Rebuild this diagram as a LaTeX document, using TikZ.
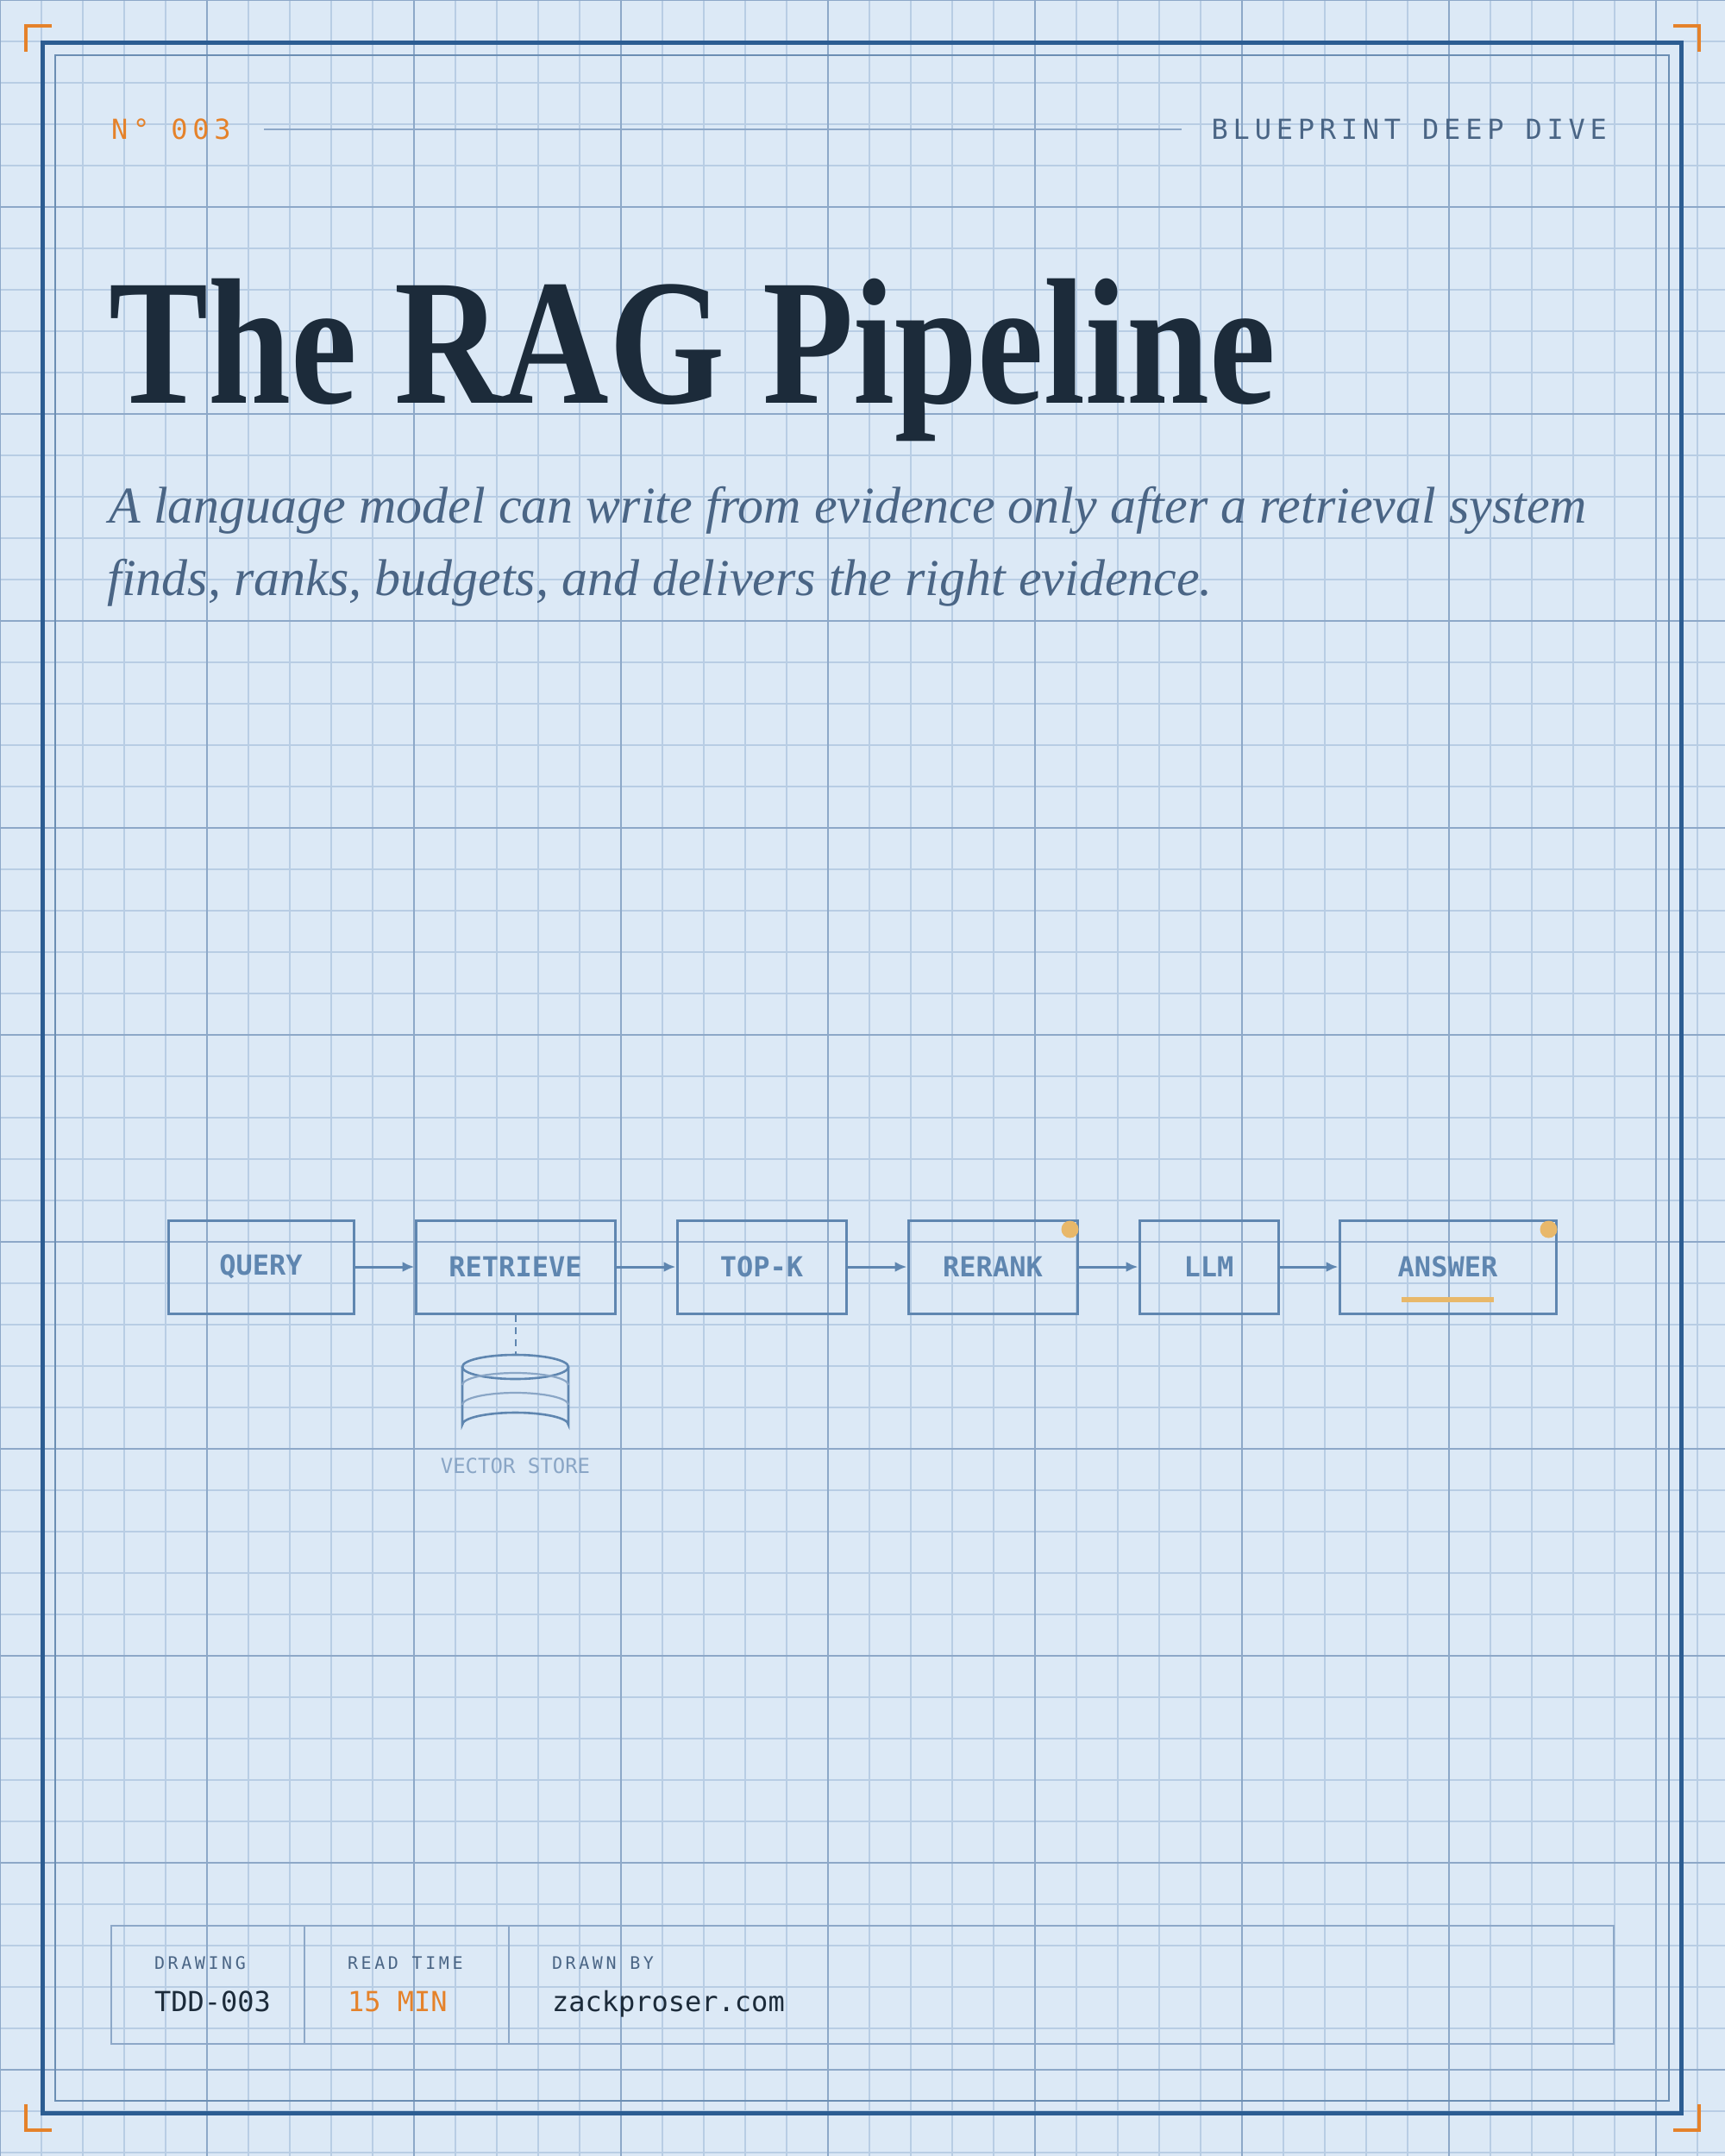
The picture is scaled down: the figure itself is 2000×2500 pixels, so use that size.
\documentclass[tikz,border=0pt]{standalone}
\usepackage{fontspec}
\setmainfont{Liberation Serif}
\setmonofont{DejaVu Sans Mono}
\newfontfamily\spaced[LetterSpace=18]{DejaVu Sans Mono}
\usetikzlibrary{arrows.meta, positioning, calc}
\definecolor{paper}{HTML}{DCE9F6}
\definecolor{gridminor}{HTML}{B8CDE4}
\definecolor{gridmajor}{HTML}{8DA8C8}
\definecolor{frame}{HTML}{2C5D92}
\definecolor{ink}{HTML}{1C2B3A}
\definecolor{subink}{HTML}{4A6585}
\definecolor{stage}{HTML}{5F86B0}
\definecolor{faint}{HTML}{8AA6C6}
\definecolor{accent}{HTML}{E5822A}
\definecolor{gold}{HTML}{E8B86A}

\begin{document}
\begin{tikzpicture}[
    x=0.5pt, y=-0.5pt,
    stage/.style={draw=stage, line width=1.5pt, minimum height=54pt, inner sep=0pt,
                  font=\ttfamily\bfseries\fontsize{16}{20}\selectfont, text=stage},
    flow/.style={draw=stage, line width=1.5pt, -{Latex[length=7pt,width=6pt]}},
    dot/.style={circle, fill=gold, inner sep=0pt, minimum size=10pt},
    tag/.style={font=\spaced\fontsize{10}{12}\selectfont, text=subink, anchor=base west},
    val/.style={font=\ttfamily\fontsize{16}{19}\selectfont, anchor=base west},
    lede/.style={anchor=base west, inner sep=0pt, text=subink, font=\itshape\fontsize{30}{42}\selectfont}
  ]
  % paper and grid
  \fill[paper] (0,0) rectangle (2000,2500);
  \useasboundingbox (0,0) rectangle (2000,2500);
  \foreach \x in {0,48,...,2000} \draw[gridminor, line width=0.6pt] (\x,0) -- (\x,2500);
  \foreach \y in {0,48,...,2500} \draw[gridminor, line width=0.6pt] (0,\y) -- (2000,\y);
  \foreach \x in {0,240,...,2000} \draw[gridmajor, line width=0.8pt] (\x,0) -- (\x,2500);
  \foreach \y in {0,240,...,2500} \draw[gridmajor, line width=0.8pt] (0,\y) -- (2000,\y);

  % frames and corner marks
  \draw[frame, line width=2.5pt] (49,49) rectangle (1949,2450);
  \draw[frame!70, line width=0.9pt] (64,64) rectangle (1935,2436);
  \draw[accent, line width=2pt] (30,60) -- (30,30) -- (60,30);
  \draw[accent, line width=2pt] (1940,30) -- (1970,30) -- (1970,60);
  \draw[accent, line width=2pt] (30,2440) -- (30,2470) -- (60,2470);
  \draw[accent, line width=2pt] (1940,2470) -- (1970,2470) -- (1970,2440);

  % header
  \node[font=\spaced\fontsize{16}{20}\selectfont, text=accent, anchor=west] (num) at (122,150) {N° 003};
  \node[font=\spaced\fontsize{16}{20}\selectfont, text=subink, anchor=east] (kind) at (1870,150) {BLUEPRINT DEEP DIVE};
  \draw[gridmajor, line width=0.9pt] (306,150) -- (1370,150);

  % title
  \node[anchor=base west, inner sep=0pt, text=ink, xscale=0.83, transform shape,
        font=\bfseries\fontsize{104}{110}\selectfont] (title) at (126,467) {The RAG Pipeline};
  \node[lede] (lede1) at (126,606) {A language model can write from evidence only after a retrieval system};
  \node[lede] (lede2) at (124,690) {finds, ranks, budgets, and delivers the right evidence.};

  % pipeline
  \node[stage, minimum width=107.5pt] (query) at (302.5,1469) {QUERY};
  \node[stage, minimum width=115.5pt] (retrieve) at (597.5,1469) {RETRIEVE};
  \node[stage, minimum width=98pt] (topk) at (883,1469) {TOP-K};
  \node[stage, minimum width=98pt] (rerank) at (1151,1469) {RERANK};
  \node[stage, minimum width=80.5pt] (llm) at (1401.5,1469) {LLM};
  \node[stage, minimum width=125.5pt] (answer) at (1678.5,1469) {ANSWER};
  \draw[flow] (query) -- (retrieve);
  \draw[flow] (retrieve) -- (topk);
  \draw[flow] (topk) -- (rerank);
  \draw[flow] (rerank) -- (llm);
  \draw[flow] (llm) -- (answer);
  \node[dot] (d1) at ([xshift=-5pt,yshift=-6pt]rerank.north east) {};
  \node[dot] (d2) at ([xshift=-5pt,yshift=-6pt]answer.north east) {};
  \draw[gold, line width=3pt] (1625,1507) -- (1732,1507);

  % vector store
  \coordinate (store) at (597.5,1571);
  \draw[stage, line width=1pt, dash pattern=on 4pt off 3pt] (retrieve) -- (store);
  \draw[stage, line width=1.3pt] (597.5,1585) ellipse [x radius=61.5, y radius=14];
  \draw[stage, line width=1.3pt] (536,1585) -- (536,1652) arc[start angle=180, end angle=360, x radius=61.5, y radius=14] -- (659,1585);
  \draw[faint, line width=1.1pt] (536,1606) arc[start angle=180, end angle=360, x radius=61.5, y radius=14];
  \draw[faint, line width=1.1pt] (536,1629) arc[start angle=180, end angle=360, x radius=61.5, y radius=14];
  \node[font=\ttfamily\fontsize{12}{14}\selectfont, text=faint] (storelbl) at (597.5,1700) {VECTOR STORE};

  % title block
  \draw[gridmajor, line width=1pt] (129,2233) rectangle (1871,2370);
  \draw[gridmajor, line width=1pt] (353,2233) -- (353,2370);
  \draw[gridmajor, line width=1pt] (590,2233) -- (590,2370);
  \node[tag] (t1) at (172,2283) {DRAWING};
  \node[tag] (t2) at (396,2283) {READ TIME};
  \node[tag] (t3) at (633,2283) {DRAWN BY};
  \node[val, text=ink] (v1) at (172,2332) {TDD-003};
  \node[val, text=accent] (v2) at (396,2332) {15 MIN};
  \node[val, text=ink] (v3) at (633,2332) {zackproser.com};
\end{tikzpicture}
\end{document}
